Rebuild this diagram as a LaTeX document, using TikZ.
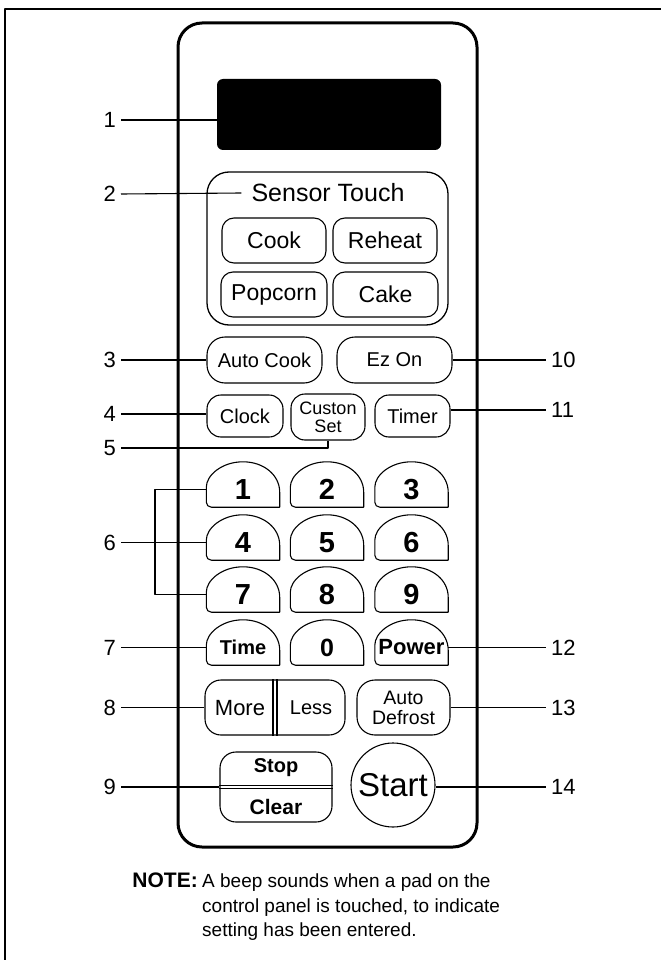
\documentclass[tikz,border=0pt]{standalone}
\usepackage{fontspec}
\setmainfont{Liberation Sans}
\usetikzlibrary{calc}

\tikzset{
  pad/.style={draw, rounded corners=12pt, line width=1.1pt, inner sep=0pt, align=center,
    font=\fontsize{20}{21}\selectfont},
  numkey/.style={minimum width=73pt, minimum height=35pt, inner sep=0pt,
    font=\fontsize{29}{29}\selectfont\bfseries},
  lbl/.style={inner sep=5pt, font=\fontsize{22}{24}\selectfont},
  lead/.style={line width=1.1pt},
  note/.style={inner sep=0pt, align=left, font=\fontsize{19}{24.5}\selectfont},
}

% dome shaped key: flat bottom, round top
\newcommand{\numkey}[4]{%
  \node[numkey] (#1) at (#2,#3) {#4};
  \draw[line width=1.1pt, rounded corners=5pt]
    (#1.south) -- (#1.south west) -- ([yshift=15pt]#1.south west)
    [sharp corners] .. controls ([yshift=32pt]#1.south west) and ([xshift=-21pt,yshift=10pt]#1.north)
    .. ([yshift=10pt]#1.north)
    .. controls ([xshift=21pt,yshift=10pt]#1.north) and ([yshift=32pt]#1.south east)
    .. ([yshift=15pt]#1.south east) -- (#1.south east)
    [rounded corners=5pt] -- (#1.south);
}

\begin{document}
\begin{tikzpicture}[x=1pt, y=-1pt, line join=round]
\useasboundingbox (0,0) rectangle (661,960);

% ----------------------------
% FRAME AND PANEL
% ----------------------------
\draw[line width=2pt] (5,960) -- (5,9) -- (661,9);
\node[draw, line width=3pt, rounded corners=24pt, minimum width=299pt, minimum height=824pt] (panel) at (327.5,435) {};

% display window
\node[fill=black, rounded corners=6pt, minimum width=224pt, minimum height=71pt, inner sep=0pt] (disp) at (329,114.5) {};

% ----------------------------
% SENSOR TOUCH GROUP
% ----------------------------
\node[draw, line width=1.3pt, rounded corners=22pt, minimum width=241pt, minimum height=153pt] (sbox) at (327.5,248.5) {};
\node[inner sep=10pt, font=\fontsize{25}{25}\selectfont] (stitle) at (328,193) {Sensor Touch};
\node[pad, minimum width=104pt, minimum height=45pt, font=\fontsize{23}{23}\selectfont] (cook) at (274,240.5) {Cook};
\node[pad, minimum width=104pt, minimum height=45pt, font=\fontsize{23}{23}\selectfont] (reheat) at (385,240.5) {Reheat};
\node[pad, minimum width=106pt, minimum height=45pt, font=\fontsize{23}{23}\selectfont] (popcorn) at (274,294.5) {Popcorn};
\node[pad, minimum width=105pt, minimum height=45pt, font=\fontsize{23}{23}\selectfont] (cake) at (385.5,294.5) {Cake};

% ----------------------------
% FUNCTION PADS
% ----------------------------
\node[pad, rounded corners=18pt, minimum width=115pt, minimum height=46pt] (autocook) at (264.5,360) {Auto Cook};
\node[pad, rounded corners=18pt, minimum width=115pt, minimum height=46pt] (ezon) at (394.5,360) {Ez On};

\node[pad, rounded corners=14pt, minimum width=76pt, minimum height=42pt] (clock) at (245,416) {Clock};
\node[pad, rounded corners=14pt, minimum width=74pt, minimum height=46pt, font=\fontsize{18}{18}\selectfont] (custon) at (328,417) {Custon\\Set};
\node[pad, rounded corners=14pt, minimum width=75pt, minimum height=42pt] (timer) at (412.5,416) {Timer};

% ----------------------------
% NUMBER PADS
% ----------------------------
\numkey{k1}{243}{489.5}{1}
\numkey{k2}{327}{489.5}{2}
\numkey{k3}{411.5}{489.5}{3}
\numkey{k4}{243}{542.5}{4}
\numkey{k5}{327}{542.5}{5}
\numkey{k6}{411.5}{542.5}{6}
\numkey{k7}{243}{594.5}{7}
\numkey{k8}{327}{594.5}{8}
\numkey{k9}{411.5}{594.5}{9}
\numkey{time}{243}{647.5}{\fontsize{20}{20}\selectfont Time}
\numkey{k0}{327}{647.5}{\fontsize{25}{25}\selectfont 0}
\numkey{power}{411.5}{647.5}{\fontsize{22}{22}\selectfont Power}

% ----------------------------
% LOWER PADS
% ----------------------------
\node[pad, rounded corners=16pt, minimum width=140pt, minimum height=55pt] (moreless) at (275,707.5) {};
\draw[line width=1.1pt] ([xshift=-2pt]moreless.north) -- ([xshift=-2pt]moreless.south);
\draw[line width=1.1pt] ([xshift=2pt]moreless.north) -- ([xshift=2pt]moreless.south);
\node[font=\fontsize{22}{22}\selectfont] (more) at (240,708) {More};
\node[font=\fontsize{20}{20}\selectfont] (less) at (311,708) {Less};
\node[pad, rounded corners=18pt, minimum width=93pt, minimum height=55pt, font=\fontsize{19.5}{20}\selectfont] (adefrost) at (403.5,707.5) {Auto\\Defrost};

\node[pad, rounded corners=16pt, minimum width=112pt, minimum height=70pt] (stopclear) at (276,787) {};
\draw[line width=1.1pt] ([yshift=1.5pt]stopclear.west) -- ([yshift=1.5pt]stopclear.east);
\draw[line width=1.1pt] ([yshift=-1.5pt]stopclear.west) -- ([yshift=-1.5pt]stopclear.east);
\node[font=\fontsize{20}{20}\selectfont\bfseries] (stop) at (276,768) {Stop};
\node[font=\fontsize{21}{21}\selectfont\bfseries] (clear) at (276,807) {Clear};
\node[draw, circle, line width=1.1pt, minimum size=84pt, inner sep=0pt, font=\fontsize{33}{33}\selectfont] (start) at (393,785) {Start};

% ----------------------------
% CALLOUT LABELS
% ----------------------------
\node[lbl, anchor=east] (l1) at (121,120) {1};
\node[lbl, anchor=east] (l2) at (121,194) {2};
\node[lbl, anchor=east] (l3) at (121,360) {3};
\node[lbl, anchor=east] (l4) at (121,414) {4};
\node[lbl, anchor=east] (l5) at (121,448) {5};
\node[lbl, anchor=east] (l6) at (121,542.5) {6};
\node[lbl, anchor=east] (l7) at (121,647.5) {7};
\node[lbl, anchor=east] (l8) at (121,707.5) {8};
\node[lbl, anchor=east] (l9) at (121,787) {9};
\node[lbl, anchor=west] (l10) at (546,360) {10};
\node[lbl, anchor=west] (l11) at (546,410) {11};
\node[lbl, anchor=west] (l12) at (546,647.5) {12};
\node[lbl, anchor=west] (l13) at (546,707.5) {13};
\node[lbl, anchor=west] (l14) at (546,787) {14};

\draw[lead] (l1.east) -- (l1.east -| disp.west);
\draw[lead] (l2.east) -- (stitle.west);
\draw[lead] (l3.east) -- (autocook.west);
\draw[lead] (l4.east) -- (l4.east -| clock.west);
\draw[lead] (l5.east) -| (custon.south);
\coordinate (brk) at (155,542.5);
\draw[lead] (l6.east) -- (k4.west);
\draw[lead] (k1.west) -| (brk);
\draw[lead] (k7.west) -| (brk);
\draw[lead] (l7.east) -- (time.west);
\draw[lead] (l8.east) -- (moreless.west);
\draw[lead] (l9.east) -- (stopclear.west);
\draw[lead] (ezon.east) -- (l10.west);
\draw[lead] (l11.west -| timer.east) -- (l11.west);
\draw[lead] (power.east) -- (l12.west);
\draw[lead] (adefrost.east) -- (l13.west);
\draw[lead] (l14.west -| start.east) -- (l14.west);

% ----------------------------
% NOTE
% ----------------------------
\node[note, anchor=north west] (notebody) at (202,874) {A beep sounds when a pad on the\\control panel is touched, to indicate\\setting has been entered.};
\node[note, anchor=north east, font=\fontsize{21}{24.5}\selectfont\bfseries] (notehead) at ([xshift=-4pt,yshift=1pt]notebody.north west) {NOTE:};

\end{tikzpicture}
\end{document}
